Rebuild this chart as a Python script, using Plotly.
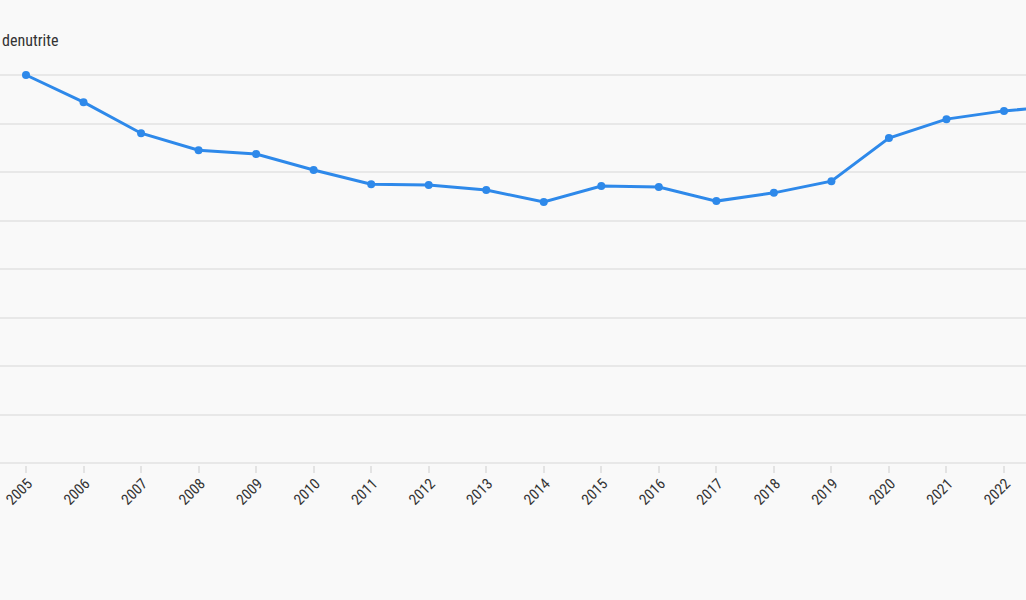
import plotly.graph_objects as go

years = list(range(2005, 2024))
values = [800, 744, 680, 645, 637, 604, 575, 573, 563, 538, 571, 569, 540, 557, 581, 670, 709, 726, 736]
y_ticks = [0, 100, 200, 300, 400, 500, 600, 700, 800]
title_text = "denutrite"

W, H = 1026, 600
px_2005, px_2022 = 26, 1004
per_year = (px_2022 - px_2005) / 17
x0 = 2005 - px_2005 / per_year
x1 = 2022 + (W - px_2022) / per_year

# plot area 73..465 px; value 0 at 463 px, 800 at 75 px
unit_per_px = 800 / (463 - 75)
pad = 2 * unit_per_px

fig = go.Figure()
fig.add_trace(go.Scatter(
    x=years, y=values, mode="lines+markers",
    line=dict(color="#2e89ea", width=3),
    marker=dict(color="#2e89ea", size=8),
    cliponaxis=False,
    hoverinfo="x+y",
))

fig.update_layout(
    template="none",
    width=W, height=H,
    margin=dict(l=0, r=0, t=73, b=135, pad=0),
    paper_bgcolor="#f9f9f9",
    plot_bgcolor="#f9f9f9",
    showlegend=False,
    font=dict(family="Roboto Condensed, Roboto, sans-serif", color="#333333"),
    xaxis=dict(
        range=[x0, x1], tickmode="array", tickvals=years[:-1],
        ticktext=[str(y) for y in years[:-1]],
        tickangle=-45, ticks="outside", ticklen=7, tickcolor="#e3e3e3", tickwidth=2,
        ticklabelstandoff=-4, ticklabelshift=2,
        showgrid=False, zeroline=False, showline=False,
        tickfont=dict(size=15, color="#333333"), automargin=False,
    ),
    yaxis=dict(
        range=[-pad, 800 + pad], tickmode="array", tickvals=y_ticks,
        showticklabels=False, showgrid=True, gridcolor="#e8e8e8", gridwidth=2,
        zeroline=False, showline=False, automargin=False,
    ),
    annotations=[dict(
        text=title_text, xref="paper", yref="paper",
        x=0, xanchor="left", y=1 + (73 - 41) / 392, yanchor="middle",
        showarrow=False, font=dict(size=16, color="#333333"),
    )],
)

fig.write_html(
    "out.html",
    config={"displayModeBar": False},
    post_script="document.body.style.margin='0';document.body.style.background='#f9f9f9';",
)
